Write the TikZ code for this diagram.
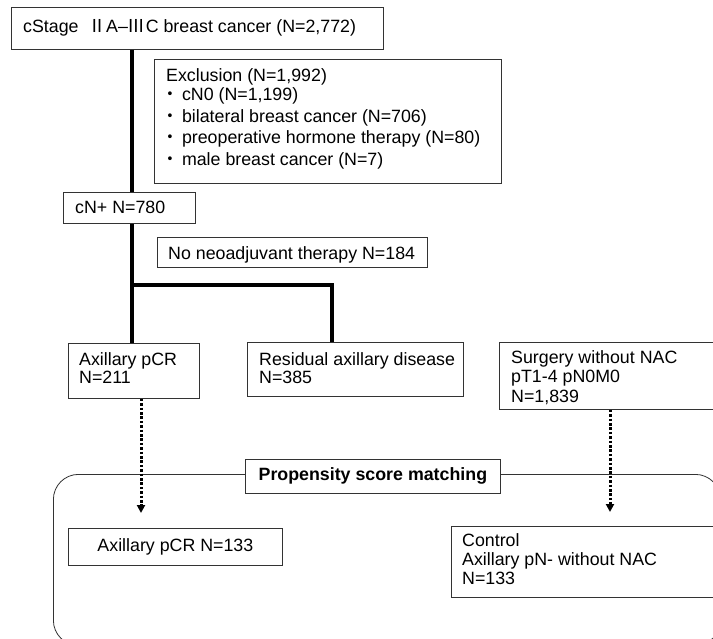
\documentclass[tikz,border=0pt]{standalone}
\usepackage{fontspec}
\setmainfont{Liberation Sans}
\newfontfamily\cjk{Noto Sans CJK JP}
\usetikzlibrary{arrows.meta}
\newcommand\fsz{\fontsize{17.8}{19}\selectfont}
\tikzset{
  box/.style={draw=black!80, line width=0.8pt, fill=white, inner sep=0pt, anchor=north west},
  txt/.style={anchor=base west, inner sep=0pt, font=\fsz},
  trunk/.style={line width=3.2pt, black},
  dotarrow/.style={line width=3pt, dash pattern=on 2.6pt off 1.8pt, -{Triangle[width=8pt,length=8pt]}},
}
\begin{document}
\begin{tikzpicture}[x=1pt,y=-1pt]
\useasboundingbox (0,0) rectangle (713,638);
\clip (0,0) rectangle (713,638);
\fill[white] (0,0) rectangle (713,638);

% boxes
\node[box, minimum width=372, minimum height=42] (top) at (11,7) {};
\node[box, minimum width=347, minimum height=124] (excl) at (154,59) {};
\node[box, minimum width=132, minimum height=31] (cn) at (63,192) {};
\node[box, minimum width=270, minimum height=30] (noneo) at (157,237) {};
\node[box, minimum width=131, minimum height=55] (pcr) at (68,343) {};
\node[box, minimum width=216, minimum height=54] (resid) at (247,342) {};
\node[box, minimum width=240, minimum height=67] (surg) at (499,342) {};

% connectors
\coordinate (tr) at (132,343);
\draw[trunk] (top.south -| tr) -- (cn.north -| tr);
\draw[trunk] (cn.south -| tr) -- (tr);
\coordinate (br) at (132,285);
\coordinate (rtop) at (332,342);
\draw[trunk] (br) -| (rtop);

% texts
\node[txt] (t0) at (23,32) {cStage\hspace{0.55em}{\cjk Ⅱ}A–{\cjk Ⅲ}C breast cancer (N=2,772)};
\node[txt] (e0) at (166,81) {Exclusion (N=1,992)};
\node[txt] (e1) at (161,100) {{\cjk ・}\kern3pt cN0 (N=1,199)};
\node[txt] (e2) at (161,122) {{\cjk ・}\kern3pt bilateral breast cancer (N=706)};
\node[txt] (e3) at (161,143.5) {{\cjk ・}\kern3pt preoperative hormone therapy (N=80)};
\node[txt] (e4) at (161,165) {{\cjk ・}\kern3pt male breast cancer (N=7)};
\node[txt] (c0) at (75,213) {cN+ N=780};
\node[txt] (n0) at (168,259) {No neoadjuvant therapy N=184};
\node[txt] (p0) at (79,365) {Axillary pCR};
\node[txt] (p1) at (79,383) {N=211};
\node[txt] (r0) at (259,365) {Residual axillary disease};
\node[txt] (r1) at (259,383) {N=385};
\node[txt] (s0) at (511,363) {Surgery without NAC};
\node[txt] (s1) at (511,382) {pT1-4 pN0M0};
\node[txt] (s2) at (511,402) {N=1,839};

% propensity frame
\node[draw=black!80, line width=0.8pt, rounded corners=25pt, inner sep=0pt, anchor=north west,
      minimum width=667, minimum height=171] (frame) at (53,474) {};
\node[box, minimum width=255, minimum height=34, font=\fsz\bfseries] (psm) at (245,459) {Propensity score matching};

\coordinate (a1) at (141,513);
\coordinate (a2) at (610,512);
\draw[dotarrow] (pcr.south -| a1) -- (a1);
\draw[dotarrow] (surg.south -| a2) -- (a2);

\node[box, minimum width=214, minimum height=37, font=\fsz] (pcr133) at (68,528) {Axillary pCR N=133};
\node[box, minimum width=280, minimum height=71] (ctrl) at (451,526) {};
\node[txt] (k0) at (462,546) {Control};
\node[txt] (k1) at (462,565) {Axillary pN- without NAC};
\node[txt] (k2) at (462,584) {N=133};
\end{tikzpicture}
\end{document}
